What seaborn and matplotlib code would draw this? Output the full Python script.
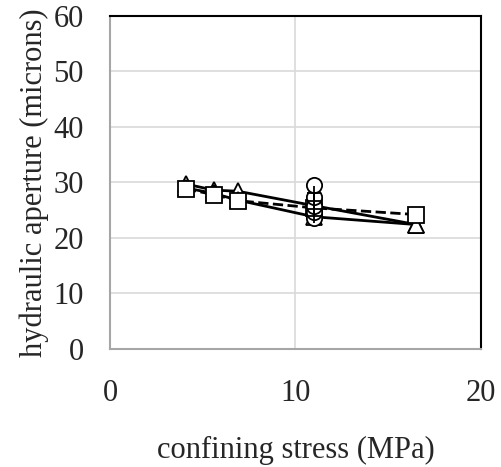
import pandas as pd
import matplotlib
matplotlib.use("Agg")
import matplotlib.pyplot as plt
import seaborn as sns

# Data
stress = [4.1, 5.6, 6.9, 11.0, 16.5]
aperture_tri_a = [29.7, 28.6, 28.4, 25.8, 22.4]
aperture_tri_b = [29.0, 28.0, 26.8, 23.8, 22.4]
aperture_sq = [28.8, 27.8, 26.7, 25.4, 24.2]
stress_repeat = [11.0, 11.0, 11.0, 11.0, 11.0]
aperture_circ = [29.5, 27.3, 25.8, 24.6, 23.6]
aperture_plus = [28.0, 26.6, 25.2, 24.0]

sns.set_style("whitegrid")
plt.rcParams['font.family'] = ['Liberation Serif', 'DejaVu Serif']

fig = plt.figure(figsize=(5.02, 4.67), dpi=100)
ax = fig.add_axes([0.219, 0.253, 0.739, 0.713])

mk = dict(markersize=11, markerfacecolor='white', markeredgecolor='black',
          markeredgewidth=1.3, color='black', linewidth=2)

sns.lineplot(x=stress, y=aperture_tri_a, ax=ax, marker='^', **mk)
sns.lineplot(x=stress, y=aperture_tri_b, ax=ax, marker='^', **mk)
sns.lineplot(x=stress, y=aperture_sq, ax=ax, marker='s', linestyle='--', **mk)
sns.lineplot(x=stress_repeat, y=aperture_circ, ax=ax, marker='o', linestyle='none',
             estimator=None, **mk)
ax.plot(stress_repeat[:4], aperture_plus, marker='+', linestyle='none',
        color='black', markersize=10, markeredgewidth=1.3)

ax.set_xlim(0, 20)
ax.set_ylim(0, 60)
ax.set_xticks([0, 10, 20])
ax.set_yticks(range(0, 61, 10))
ax.grid(color='#d9d9d9', linewidth=1.2)
ax.tick_params(axis='x', pad=22, labelsize=22, length=0)
ax.tick_params(axis='y', pad=19, labelsize=22, length=0)

for side in ['left', 'bottom']:
    ax.spines[side].set_color('#a6a6a6')
    ax.spines[side].set_linewidth(1.5)
for side in ['top', 'right']:
    ax.spines[side].set_color('black')
    ax.spines[side].set_linewidth(1.5)

ax.set_xlabel('confining stress (MPa)', fontsize=22, labelpad=20)
ax.set_ylabel('hydraulic aperture (microns)', fontsize=22, labelpad=3)

fig.savefig('out.png', dpi=100)
